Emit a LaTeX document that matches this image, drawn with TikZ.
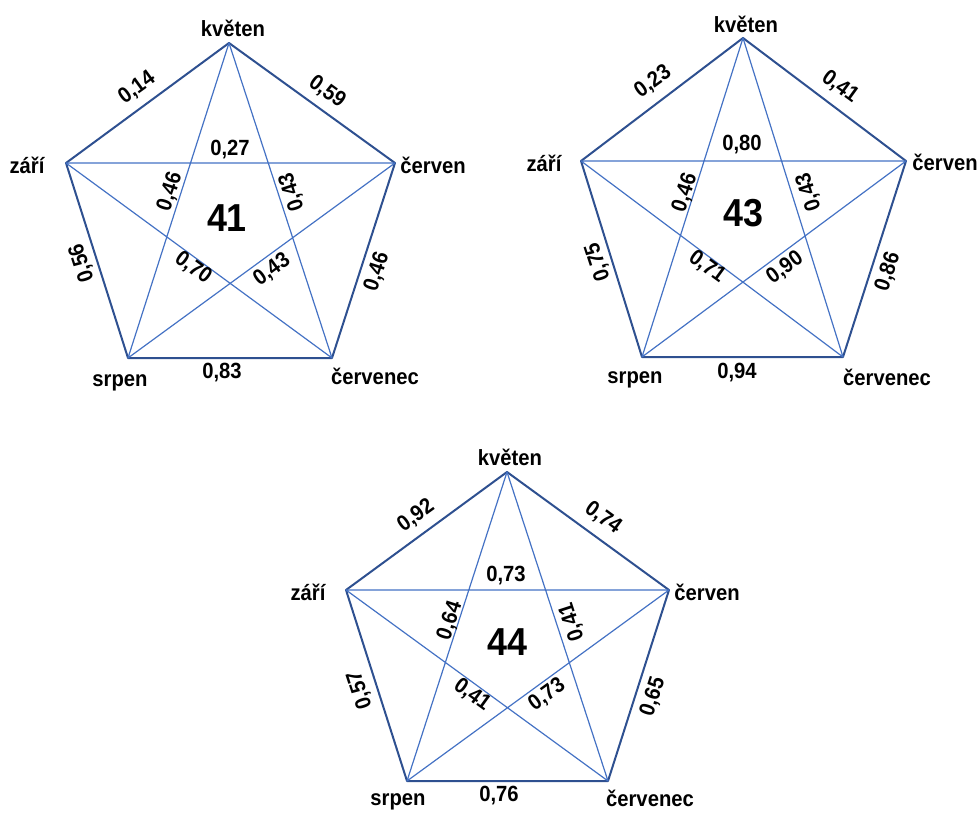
\documentclass[tikz,border=0pt]{standalone}
\usepackage{fontspec}
\setmainfont{Liberation Sans}[FakeStretch=0.92]
\usepackage{tikz}
\definecolor{rimblue}{RGB}{46,80,144}
\definecolor{rayblue}{RGB}{68,114,196}
\tikzset{
  rim/.style={draw=rimblue, line width=2pt, line cap=round, line join=round},
  ray/.style={draw=rayblue, line width=1.2pt, line cap=round},
  lbl/.style={font=\bfseries\fontsize{22}{24}\selectfont, inner sep=0pt},
  bignum/.style={font=\bfseries\fontsize{39}{40}\selectfont, inner sep=0pt},
}
% outer ring and star between the five month corners
\newcommand{\pentstar}[1]{
  \draw[rim] (k#1) -- (c#1) -- (cc#1) -- (s#1) -- (z#1) -- cycle;
  \draw[ray] (k#1) -- (s#1) (k#1) -- (cc#1) (z#1) -- (c#1) (z#1) -- (cc#1) (s#1) -- (c#1);
}

\begin{document}
\begin{tikzpicture}[x=1pt, y=-1pt]
    \useasboundingbox (0,0) rectangle (977,813);

    % first pentagon
    \coordinate (k1) at (229,43);
    \coordinate (c1) at (395,163);
    \coordinate (cc1) at (332,358);
    \coordinate (s1) at (128,358);
    \coordinate (z1) at (66,163);
    \pentstar{1}
    \node[lbl] (k1t) at (233,28) {květen};
    \node[lbl] (z1t) at (27,165) {září};
    \node[lbl] (c1t) at (433,165) {červen};
    \node[lbl] (s1t) at (120,383) {srpen};
    \node[lbl] (cc1t) at (375,376) {červenec};
    \node[lbl, rotate=36] (zk1) at (137,88) {0,14};
    \node[lbl, rotate=-36] (kc1) at (327,92) {0,59};
    \node[lbl, rotate=72] (ccc1) at (377,272) {0,46};
    \node[lbl, rotate=108] (sz1) at (82,263) {0,56};
    \node[lbl] (scc1) at (222,373) {0,83};
    \node[lbl] (zc1) at (230,150) {0,27};
    \node[lbl, rotate=72] (ks1) at (170,192) {0,46};
    \node[lbl, rotate=108] (kcc1) at (292,192) {0,43};
    \node[lbl, rotate=-36] (zcc1) at (193,268) {0,70};
    \node[lbl, rotate=36] (sc1) at (272,270) {0,43};
    \node[bignum] (n1) at (227,218) {41};

    % second pentagon
    \coordinate (k2) at (743,38);
    \coordinate (c2) at (906,161);
    \coordinate (cc2) at (843,357);
    \coordinate (s2) at (642,357);
    \coordinate (z2) at (581,161);
    \pentstar{2}
    \node[lbl] (k2t) at (746,24) {květen};
    \node[lbl] (z2t) at (544,163) {září};
    \node[lbl] (c2t) at (945,162) {červen};
    \node[lbl] (s2t) at (635,380) {srpen};
    \node[lbl] (cc2t) at (887,377) {červenec};
    \node[lbl, rotate=36] (zk2) at (653,82) {0,23};
    \node[lbl, rotate=-36] (kc2) at (840,87) {0,41};
    \node[lbl, rotate=72] (ccc2) at (888,272) {0,86};
    \node[lbl, rotate=108] (sz2) at (598,262) {0,75};
    \node[lbl] (scc2) at (737,373) {0,94};
    \node[lbl] (zc2) at (742,145) {0,80};
    \node[lbl, rotate=72] (ks2) at (685,193) {0,46};
    \node[lbl, rotate=108] (kcc2) at (809,192) {0,43};
    \node[lbl, rotate=-36] (zcc2) at (707,267) {0,71};
    \node[lbl, rotate=36] (sc2) at (785,268) {0,90};
    \node[bignum] (n2) at (743,213) {43};

    % third pentagon
    \coordinate (k3) at (507,472);
    \coordinate (c3) at (669,590);
    \coordinate (cc3) at (608,781);
    \coordinate (s3) at (407,781);
    \coordinate (z3) at (346,590);
    \pentstar{3}
    \node[lbl] (k3t) at (510,457) {květen};
    \node[lbl] (z3t) at (308,592) {září};
    \node[lbl] (c3t) at (707,592) {červen};
    \node[lbl] (s3t) at (398,802) {srpen};
    \node[lbl] (cc3t) at (650,798) {červenec};
    \node[lbl, rotate=36] (zk3) at (416,516) {0,92};
    \node[lbl, rotate=-36] (kc3) at (603,518) {0,74};
    \node[lbl, rotate=72] (ccc3) at (653,697) {0,65};
    \node[lbl, rotate=108] (sz3) at (360,690) {0,57};
    \node[lbl] (scc3) at (499,796) {0,76};
    \node[lbl] (zc3) at (506,576) {0,73};
    \node[lbl, rotate=72] (ks3) at (450,621) {0,64};
    \node[lbl, rotate=108] (kcc3) at (572,622) {0,41};
    \node[lbl, rotate=-36] (zcc3) at (472,695) {0,41};
    \node[lbl, rotate=36] (sc3) at (547,695) {0,73};
    \node[bignum] (n3) at (507,642) {44};
\end{tikzpicture}
\end{document}
